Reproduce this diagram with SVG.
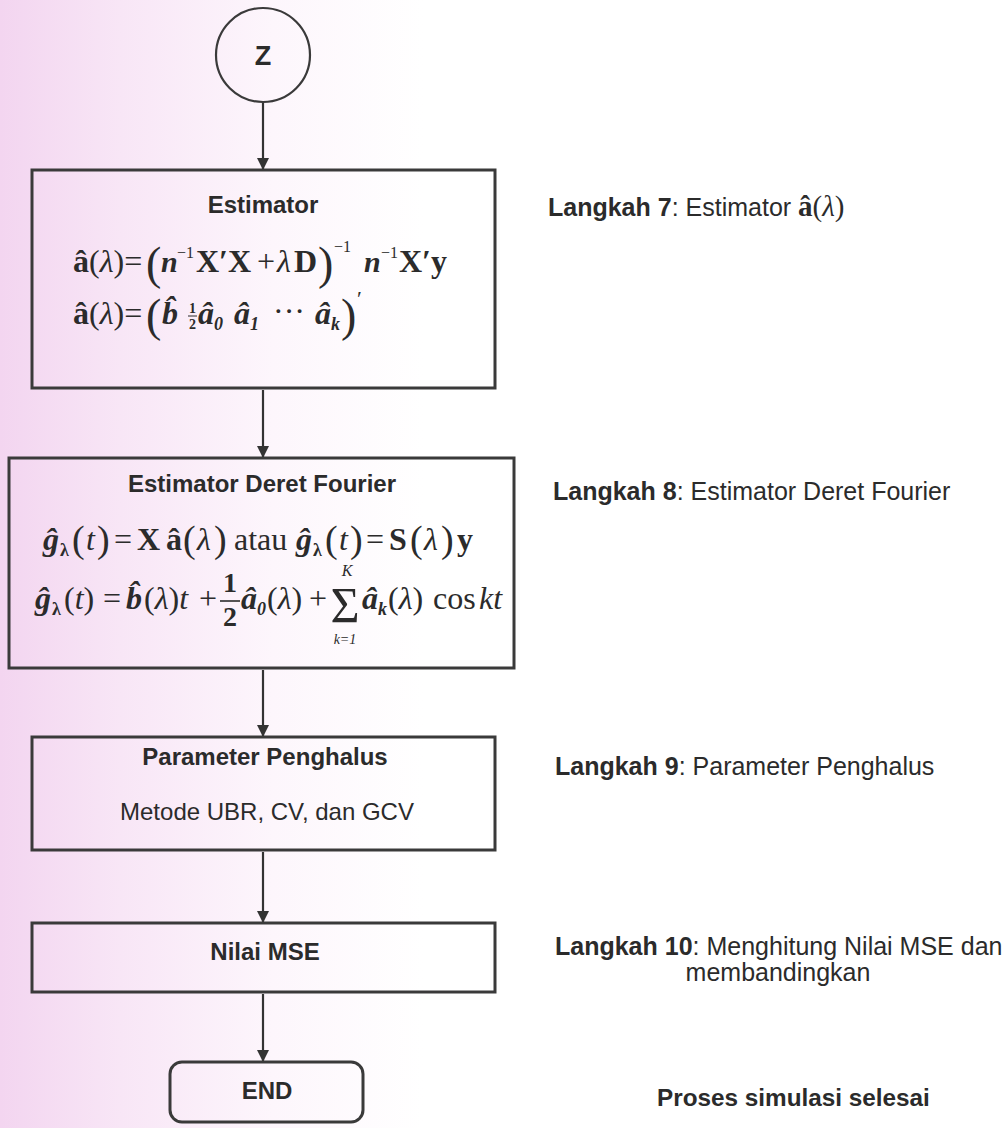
<svg xmlns="http://www.w3.org/2000/svg" width="1007" height="1128" viewBox="0 0 1007 1128">
<defs>
<linearGradient id="bg" x1="0" y1="0" x2="1" y2="0" gradientUnits="objectBoundingBox">
<stop offset="0" stop-color="#f3d5f0"/>
<stop offset="0.12" stop-color="#f8e6f6"/>
<stop offset="0.27" stop-color="#fdf6fc"/>
<stop offset="0.42" stop-color="#ffffff"/>
</linearGradient>
<marker id="arr" viewBox="0 0 12 14" refX="11" refY="7" markerWidth="12" markerHeight="14" markerUnits="userSpaceOnUse" orient="auto">
<path d="M0,1 L12,7 L0,13 Z" fill="#333"/>
</marker>
<style>
.box{fill:none;stroke:#3a3a3a;stroke-width:3}
.conn{stroke:#333;stroke-width:2.2;fill:none}
.t{font-family:"Liberation Sans",Arial,sans-serif;font-size:24px;fill:#2b2b2b}
.lab{font-size:25px}
.b{font-weight:bold}
.c{text-anchor:middle}
.m{font-family:"Liberation Serif","Times New Roman",serif;font-size:32px;fill:#2b2b2b}
.bi{font-weight:bold;font-style:italic}
.i{font-style:italic}
.bd{font-weight:bold}
.big{font-size:46px;font-weight:normal}
.par{font-size:38px}
.sup{font-size:16px}
.sub{font-size:18px}
</style>
</defs>
<rect x="0" y="0" width="1007" height="1128" fill="url(#bg)"/>

<g id="connectors">
<line class="conn" x1="263" y1="102" x2="263" y2="169" marker-end="url(#arr)"/>
<line class="conn" x1="263" y1="390" x2="263" y2="457" marker-end="url(#arr)"/>
<line class="conn" x1="263" y1="670" x2="263" y2="736" marker-end="url(#arr)"/>
<line class="conn" x1="263" y1="852" x2="263" y2="922" marker-end="url(#arr)"/>
<line class="conn" x1="263" y1="994" x2="263" y2="1061" marker-end="url(#arr)"/>
</g>

<g id="node-z">
<circle cx="263" cy="55" r="47" fill="none" stroke="#3a3a3a" stroke-width="2.2"/>
<text class="t b c" x="263" y="65" style="font-size:27px">Z</text>
</g>

<g id="node-estimator">
<rect class="box" x="32" y="170" width="463" height="218"/>
<text class="t b c" x="263" y="213">Estimator</text>
<text class="m"><tspan class="bd" x="73" y="272">â</tspan><tspan>(</tspan><tspan class="i">λ</tspan><tspan>)=</tspan><tspan class="big" x="146" y="279">(</tspan><tspan class="bi" font-size="30" x="161" y="272">n</tspan><tspan class="sup" x="177" y="258">−1</tspan><tspan class="bd" x="196" y="272">X′</tspan><tspan class="bd" x="228" y="272">X</tspan><tspan x="257" y="272">+</tspan><tspan class="i" x="277" y="272">λ</tspan><tspan class="bd" x="294" y="272">D</tspan><tspan class="big" x="318" y="279">)</tspan><tspan class="sup" x="334" y="252">−1</tspan><tspan class="bi" font-size="30" x="364" y="272">n</tspan><tspan class="sup" x="381" y="258">−1</tspan><tspan class="bd" x="399" y="272">X′y</tspan></text>
<text class="m"><tspan class="bd" x="73" y="324">â</tspan><tspan>(</tspan><tspan class="i">λ</tspan><tspan>)=</tspan><tspan class="big" x="146" y="331">(</tspan><tspan class="bi" x="162" y="324">b̂</tspan><tspan class="bd" font-size="14" x="189" y="313">1</tspan><tspan class="bd" font-size="14" x="189" y="329">2</tspan><tspan class="bi" x="198" y="324">â</tspan><tspan class="bi sub" x="214" y="330">0</tspan><tspan class="bi" x="234" y="324">â</tspan><tspan class="bi sub" x="250" y="330">1</tspan><tspan x="273" y="322">···</tspan><tspan class="bi" x="315" y="324">â</tspan><tspan class="bi sub" x="331" y="330">k</tspan><tspan class="big" x="341" y="331">)</tspan><tspan font-size="22" x="357" y="306">′</tspan></text>
<line x1="188" y1="316" x2="197" y2="316" stroke="#2b2b2b" stroke-width="1"/>
</g>

<g id="node-fourier">
<rect class="box" x="9" y="458" width="505" height="210"/>
<text class="t b c" x="262" y="492">Estimator Deret Fourier</text>
<text class="m"><tspan class="bi" x="43" y="550">ĝ</tspan><tspan class="bd sub" x="60" y="556">λ</tspan><tspan class="par" x="72" y="552">(</tspan><tspan class="i" x="86" y="550">t</tspan><tspan class="par" x="97" y="552">)</tspan><tspan x="114" y="550">=</tspan><tspan class="bd" x="137" y="550">X</tspan><tspan class="bd" x="166" y="550">â</tspan><tspan class="par" x="183" y="552">(</tspan><tspan class="i" x="197" y="550">λ</tspan><tspan class="par" x="214" y="552">)</tspan><tspan x="234" y="550">atau</tspan><tspan class="bi" x="296" y="550">ĝ</tspan><tspan class="bd sub" x="313" y="556">λ</tspan><tspan class="par" x="325" y="552">(</tspan><tspan class="i" x="339" y="550">t</tspan><tspan class="par" x="350" y="552">)</tspan><tspan x="366" y="550">=</tspan><tspan class="bd" x="389" y="550">S</tspan><tspan class="par" x="410" y="552">(</tspan><tspan class="i" x="424" y="550">λ</tspan><tspan class="par" x="441" y="552">)</tspan><tspan class="bd" x="457" y="550">y</tspan></text>
<text class="m"><tspan class="bi" x="35" y="609">ĝ</tspan><tspan class="bd sub" x="52" y="615">λ</tspan><tspan x="64" y="609">(</tspan><tspan class="i">t</tspan><tspan>)</tspan><tspan x="103" y="609">=</tspan><tspan class="bi" x="126" y="609">b̂</tspan><tspan x="144" y="609">(</tspan><tspan class="i">λ</tspan><tspan>)</tspan><tspan class="i">t</tspan><tspan x="199" y="609">+</tspan><tspan class="bi" x="241" y="609">â</tspan><tspan class="bi sub" x="257" y="615">0</tspan><tspan x="267" y="609">(</tspan><tspan class="i">λ</tspan><tspan>)</tspan><tspan x="309" y="609">+</tspan><tspan class="bi" x="362" y="609">â</tspan><tspan class="bi sub" x="378" y="615">k</tspan><tspan x="388" y="609">(</tspan><tspan class="i">λ</tspan><tspan>)</tspan><tspan x="433" y="609">cos</tspan><tspan class="i" x="479" y="609">kt</tspan></text>
<text class="m bd" x="230" y="592" text-anchor="middle" style="font-size:28px">1</text>
<line x1="220" y1="601" x2="240" y2="601" stroke="#2b2b2b" stroke-width="1.6"/>
<text class="m bd" x="230" y="626" text-anchor="middle" style="font-size:28px">2</text>
<text class="m" x="345" y="622" text-anchor="middle" style="font-size:50px">Σ</text>
<text class="m i" x="347" y="576" text-anchor="middle" style="font-size:16px">K</text>
<text class="m i" x="345" y="644" text-anchor="middle" style="font-size:14px">k=1</text>
</g>

<g id="node-parameter">
<rect class="box" x="32" y="737" width="463" height="113"/>
<text class="t b c" x="265" y="765">Parameter Penghalus</text>
<text class="t c" x="267" y="820">Metode UBR, CV, dan GCV</text>
</g>

<g id="node-mse">
<rect class="box" x="32" y="923" width="463" height="69"/>
<text class="t b c" x="265" y="960">Nilai MSE</text>
</g>

<g id="node-end">
<rect class="box" x="170" y="1062" width="193" height="60" rx="12"/>
<text class="t b c" x="267" y="1099">END</text>
</g>

<g id="labels">
<text class="t lab" x="548" y="216"><tspan class="b">Langkah 7</tspan>: Estimator <tspan font-family="Liberation Serif,serif" font-weight="bold" font-size="29">â</tspan><tspan font-family="Liberation Serif,serif" font-size="29">(</tspan><tspan font-family="Liberation Serif,serif" font-style="italic" font-size="29">λ</tspan><tspan font-family="Liberation Serif,serif" font-size="29">)</tspan></text>
<text class="t lab" x="553" y="500"><tspan class="b">Langkah 8</tspan>: Estimator Deret Fourier</text>
<text class="t lab" x="555" y="775"><tspan class="b">Langkah 9</tspan>: Parameter Penghalus</text>
<text class="t lab" x="555" y="955"><tspan class="b">Langkah 10</tspan>: Menghitung Nilai MSE dan</text>
<text class="t lab c" x="778" y="981">membandingkan</text>
<text class="t b" x="657" y="1106" style="font-size:24.3px">Proses simulasi selesai</text>
</g>
</svg>
